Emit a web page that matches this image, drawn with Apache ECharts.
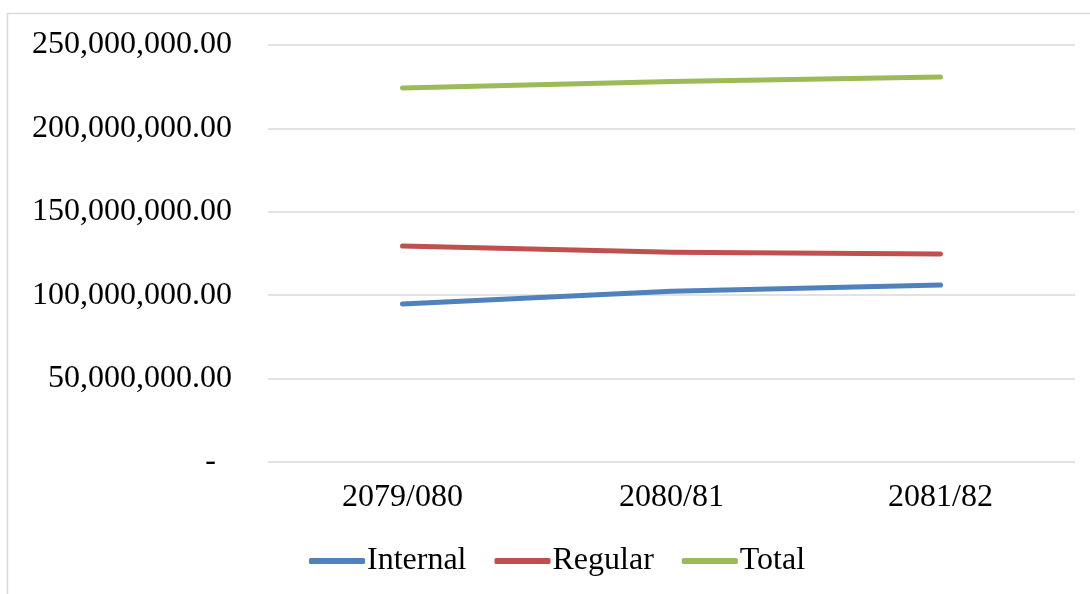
<!DOCTYPE html>
<html><head><meta charset="utf-8">
<script src="https://cdn.jsdelivr.net/npm/echarts@6/dist/echarts.min.js"></script>
<style>html,body{margin:0;padding:0;background:#fff}#c{width:1090px;height:594px}</style>
</head><body><div id="c"></div>
<script>
const categories = ['2079/080', '2080/81', '2081/82'];
const internal = [94700000, 102300000, 106100000];
const regular = [129500000, 125800000, 124700000];
const total = [224200000, 228100000, 230800000];
const yTicks = [0, 50000000, 100000000, 150000000, 200000000, 250000000];

const font = 'Liberation Serif';
const chart = echarts.init(document.getElementById('c'));
function fmt(v){
  if (v === 0) return '-  ';
  return v.toLocaleString('en-US', {minimumFractionDigits: 2, maximumFractionDigits: 2});
}
const lineStyle = (c) => ({color: c, width: 5, cap: 'round', join: 'round'});
chart.setOption({
  animation: false,
  graphic: [{type: 'rect', shape: {x: 7.5, y: 13.5, width: 1200, height: 700}, style: {fill: 'none', stroke: '#d9d9d9', lineWidth: 1.5}, silent: true}],
  grid: {left: 268, right: 15, top: 45, bottom: 132, containLabel: false},
  xAxis: {
    type: 'category', data: categories, boundaryGap: true,
    axisLine: {show: false}, axisTick: {show: false},
    axisLabel: {fontFamily: font, fontSize: 32, color: '#000', margin: 20}
  },
  yAxis: {
    type: 'value', min: yTicks[0], max: yTicks[yTicks.length - 1], interval: 50000000,
    axisLine: {show: false}, axisTick: {show: false},
    splitLine: {lineStyle: {color: '#d9d9d9', width: 1.5}},
    axisLabel: {fontFamily: font, fontSize: 32, color: '#000', margin: 36, formatter: fmt}
  },
  legend: {
    bottom: 12, left: 304, itemWidth: 56, itemHeight: 6, itemGap: 28,
    icon: 'roundRect',
    textStyle: {fontFamily: font, fontSize: 32, color: '#000', padding: [0, 0, 0, -3]},
    data: ['Internal', 'Regular', 'Total']
  },
  series: [
    {name: 'Internal', type: 'line', data: internal, showSymbol: false, symbol: 'none', color: '#4f81bd', lineStyle: lineStyle('#4f81bd')},
    {name: 'Regular', type: 'line', data: regular, showSymbol: false, symbol: 'none', color: '#c0504d', lineStyle: lineStyle('#c0504d')},
    {name: 'Total', type: 'line', data: total, showSymbol: false, symbol: 'none', color: '#9bbb59', lineStyle: lineStyle('#9bbb59')}
  ]
});
</script></body></html>
